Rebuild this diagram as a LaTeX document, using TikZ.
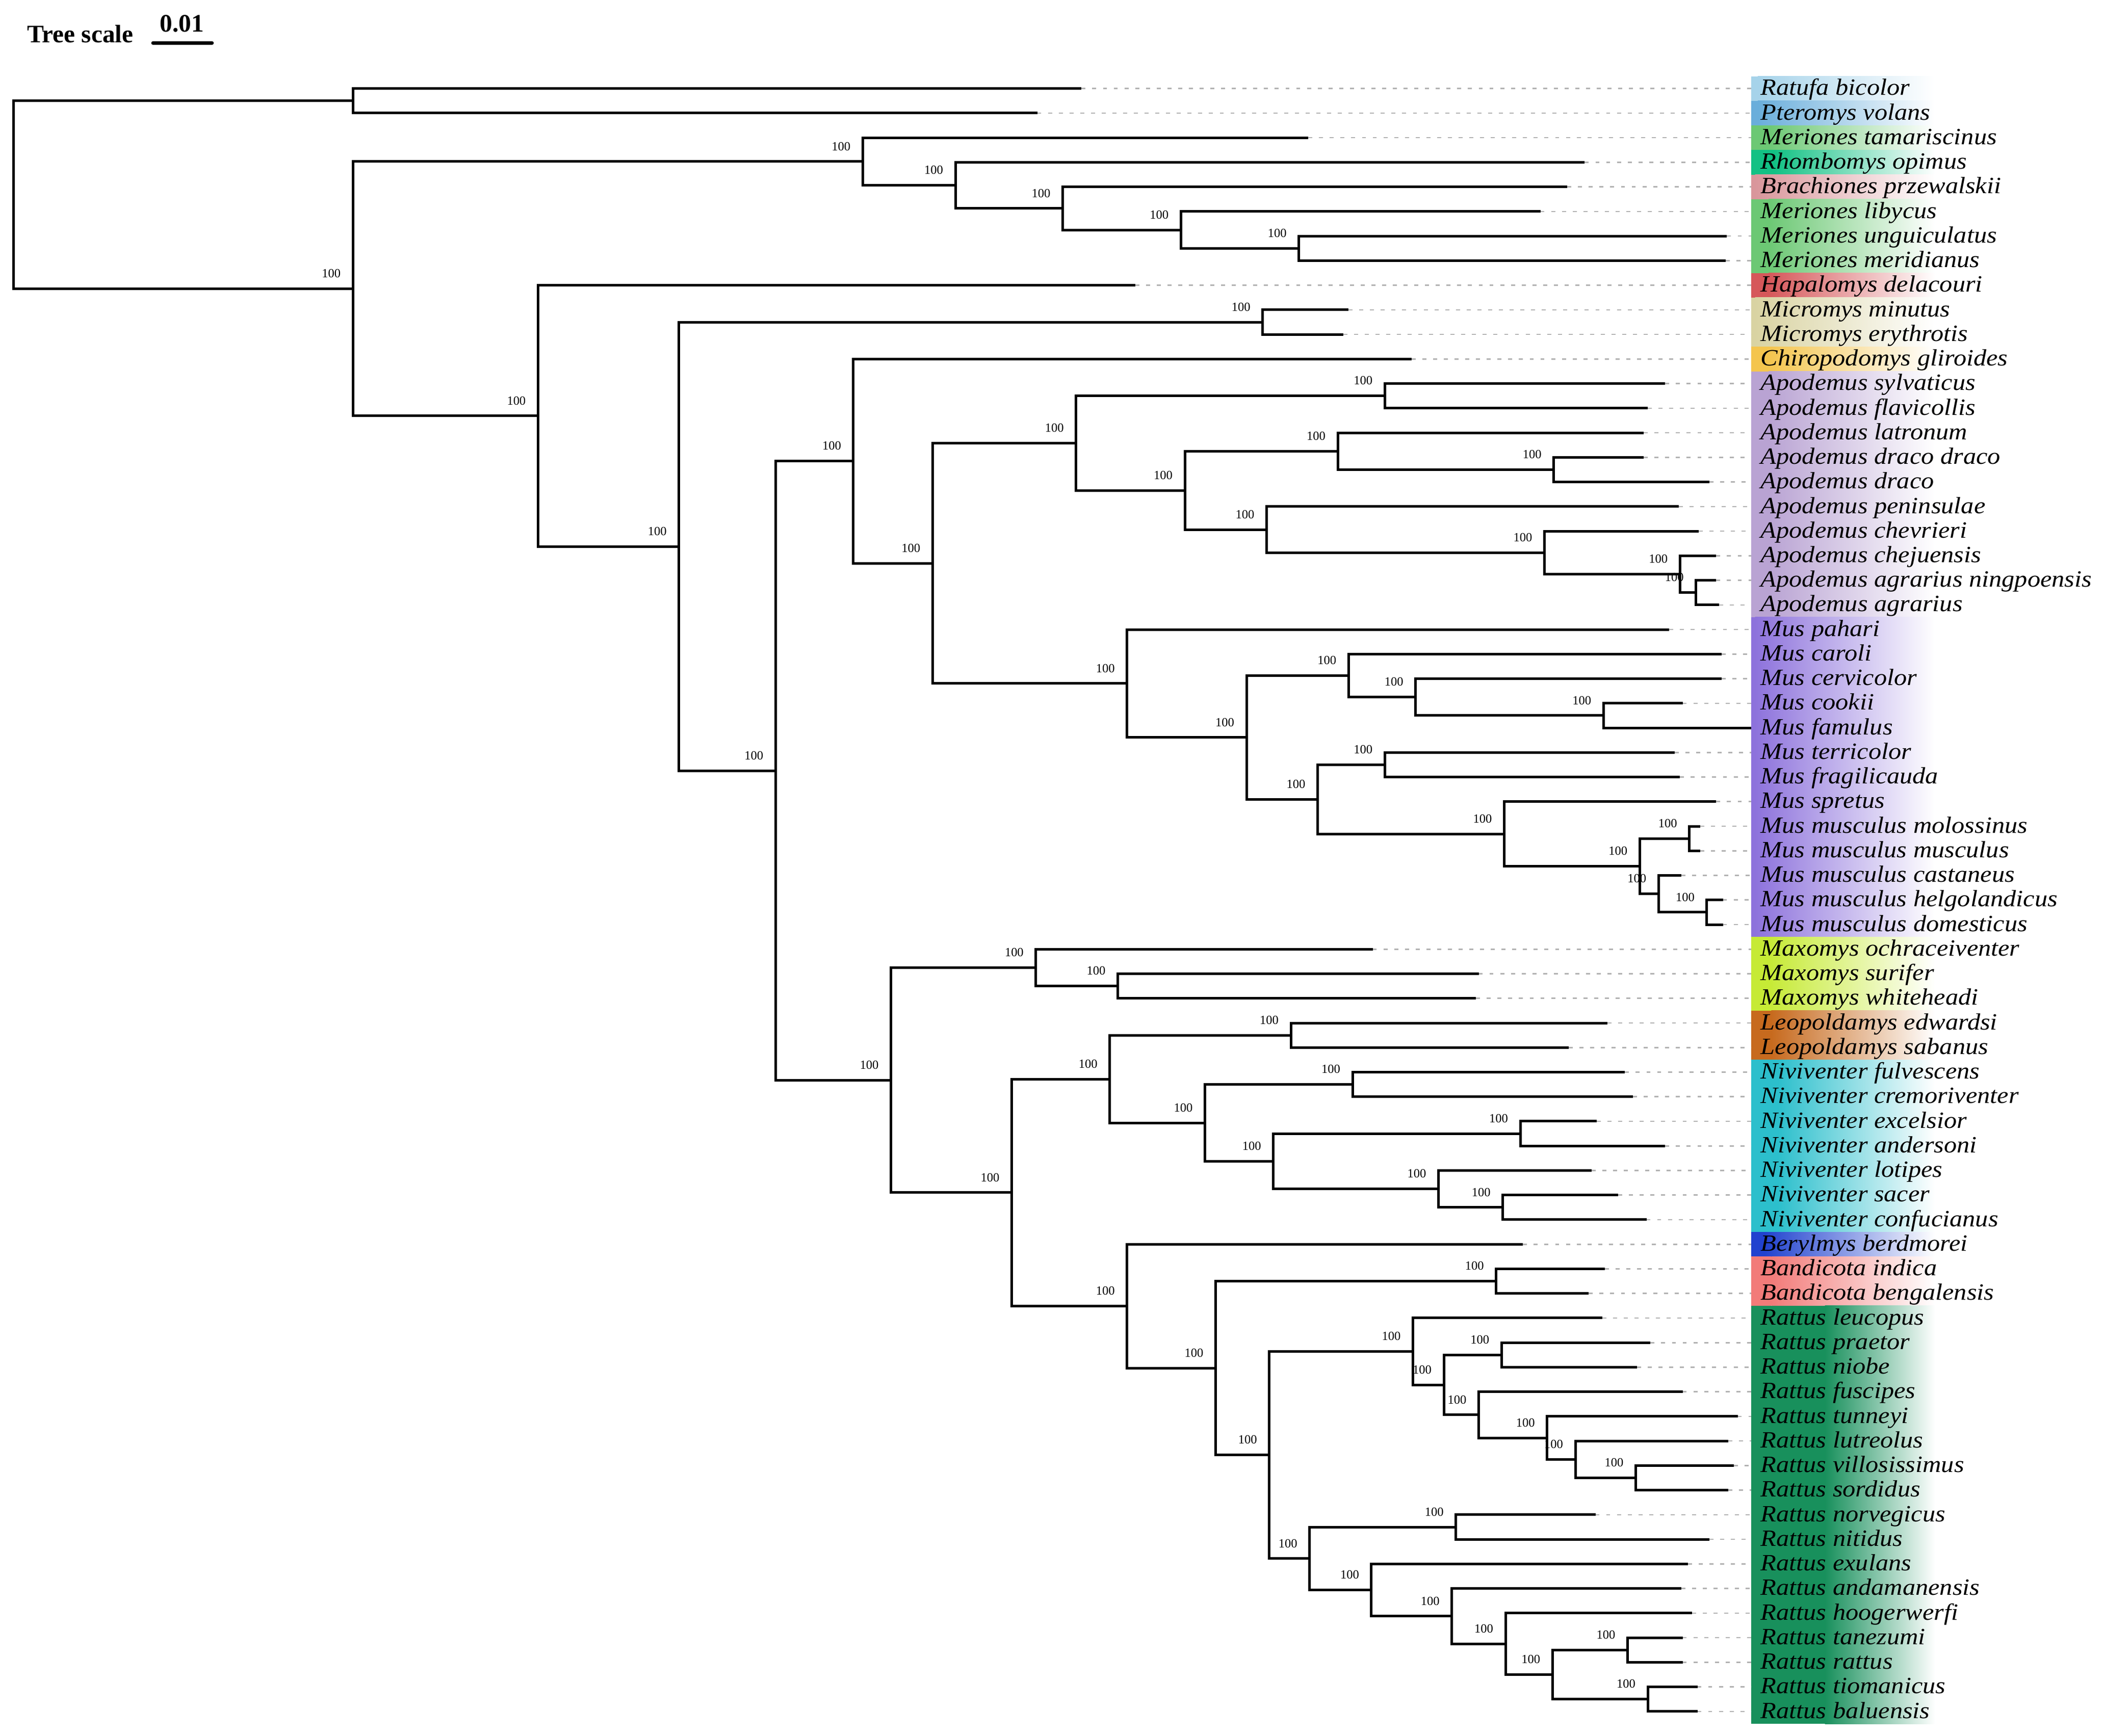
\documentclass[tikz,border=0pt]{standalone}
\usepackage{fontspec}
\setmainfont{Liberation Serif}
\newfontfamily\taxfont[FakeStretch=1.1]{Liberation Serif}

\definecolor{cRatufa}{HTML}{A6D3EA}
\definecolor{cPtero}{HTML}{6AAEDB}
\definecolor{cMer}{HTML}{6CC874}
\definecolor{cRhombo}{HTML}{12C184}
\definecolor{cBrach}{HTML}{D9969B}
\definecolor{cHapa}{HTML}{D6575A}
\definecolor{cMicro}{HTML}{D9D3A2}
\definecolor{cChiro}{HTML}{F4C54E}
\definecolor{cApo}{HTML}{B9A3D3}
\definecolor{cMus}{HTML}{8D72DC}
\definecolor{cMaxo}{HTML}{C6EA35}
\definecolor{cLeo}{HTML}{C76A1E}
\definecolor{cNivi}{HTML}{2CBFCC}
\definecolor{cBery}{HTML}{2142CF}
\definecolor{cBand}{HTML}{F27B79}
\definecolor{cRatt}{HTML}{18905C}

\tikzset{
  branch/.style={line width=1.9pt},
  tipline/.style={draw=black!30, line width=1pt, dash pattern=on 3pt off 5pt},
  taxon/.style={anchor=base west, inner sep=0pt, yshift=-5pt,
    font=\taxfont\fontsize{17.4}{18}\selectfont\itshape},
  boot/.style={anchor=south east, inner sep=0pt, xshift=-9pt, yshift=8pt,
    font=\fontsize{9.3}{10}\selectfont},
}

\begin{document}
\begin{tikzpicture}[x=1pt,y=-18.33pt]
	\useasboundingbox (0,-2.6) rectangle (1568,67.99);

	% Tree scale
	\node[anchor=base west, inner sep=0pt, font=\bfseries\fontsize{18.8}{20}\selectfont] (scaletxt) at (20,-0.871) {Tree scale};
	\node[anchor=base west, inner sep=0pt, font=\bfseries\fontsize{18.8}{20}\selectfont] (scaleval) at (119,-1.302) {0.01};
	\coordinate (sbl) at (114,-0.855);
	\coordinate (sbr) at (158,-0.855);
	\draw[line width=2.6pt, line cap=round] (sbl) -- (sbr);

	% farbige Balken hinter den Namen
	\foreach \ra/\rb/\col/\sx in {1/1/cRatufa/1310, 2/2/cPtero/1310, 3/3/cMer/1318,
	    4/4/cRhombo/1322, 5/5/cBrach/1308, 6/8/cMer/1318, 9/9/cHapa/1318,
	    10/11/cMicro/1308, 12/12/cChiro/1318, 13/22/cApo/1318, 23/35/cMus/1308,
	    36/38/cMaxo/1318, 39/40/cLeo/1320, 41/47/cNivi/1325, 48/48/cBery/1315,
	    49/50/cBand/1320, 51/67/cRatt/1360} {
		\fill[\col] (1305,{\ra-0.5}) rectangle (\sx,{\rb+0.5});
		\shade[left color=\col, right color=white] (\sx,{\ra-0.5}) rectangle (1442,{\rb+0.5});
	}

	% Blaetter
	\foreach \r/\tx/\nm/\lab in {
	    1/806/ratufa/Ratufa bicolor,
	    2/773/pteromys/Pteromys volans,
	    3/975/mtam/Meriones tamariscinus,
	    4/1181/rhombo/Rhombomys opimus,
	    5/1168/brach/Brachiones przewalskii,
	    6/1148/mlib/Meriones libycus,
	    7/1287/mung/Meriones unguiculatus,
	    8/1286/mmer/Meriones meridianus,
	    9/846/hapalo/Hapalomys delacouri,
	    10/1005/mmin/Micromys minutus,
	    11/1001/mery/Micromys erythrotis,
	    12/1052/chiro/Chiropodomys gliroides,
	    13/1241/asyl/Apodemus sylvaticus,
	    14/1228/afla/Apodemus flavicollis,
	    15/1225/alat/Apodemus latronum,
	    16/1225/adrdr/Apodemus draco draco,
	    17/1274/adra/Apodemus draco,
	    18/1251/apen/Apodemus peninsulae,
	    19/1266/ache/Apodemus chevrieri,
	    20/1279/achej/Apodemus chejuensis,
	    21/1279/aagn/Apodemus agrarius ningpoensis,
	    22/1281/aagr/Apodemus agrarius,
	    23/1244/mpah/Mus pahari,
	    24/1283/mcar/Mus caroli,
	    25/1283/mcer/Mus cervicolor,
	    26/1254/mcoo/Mus cookii,
	    27/1305/mfam/Mus famulus,
	    28/1248/mter/Mus terricolor,
	    29/1252/mfra/Mus fragilicauda,
	    30/1279/mspr/Mus spretus,
	    31/1267/mmol/Mus musculus molossinus,
	    32/1267/mmus/Mus musculus musculus,
	    33/1253/mcas/Mus musculus castaneus,
	    34/1284/mhel/Mus musculus helgolandicus,
	    35/1284/mdom/Mus musculus domesticus,
	    36/1023/mochr/Maxomys ochraceiventer,
	    37/1102/msur/Maxomys surifer,
	    38/1100/mwhi/Maxomys whiteheadi,
	    39/1198/ledw/Leopoldamys edwardsi,
	    40/1169/lsab/Leopoldamys sabanus,
	    41/1211/nful/Niviventer fulvescens,
	    42/1217/ncre/Niviventer cremoriventer,
	    43/1190/nexc/Niviventer excelsior,
	    44/1241/nand/Niviventer andersoni,
	    45/1186/nlot/Niviventer lotipes,
	    46/1206/nsac/Niviventer sacer,
	    47/1227/ncon/Niviventer confucianus,
	    48/1135/bery/Berylmys berdmorei,
	    49/1196/bind/Bandicota indica,
	    50/1184/bben/Bandicota bengalensis,
	    51/1194/rleu/Rattus leucopus,
	    52/1230/rpra/Rattus praetor,
	    53/1220/rnio/Rattus niobe,
	    54/1254/rfus/Rattus fuscipes,
	    55/1295/rtun/Rattus tunneyi,
	    56/1288/rlut/Rattus lutreolus,
	    57/1292/rvil/Rattus villosissimus,
	    58/1288/rsor/Rattus sordidus,
	    59/1189/rnor/Rattus norvegicus,
	    60/1274/rnit/Rattus nitidus,
	    61/1258/rexu/Rattus exulans,
	    62/1253/rand/Rattus andamanensis,
	    63/1261/rhoo/Rattus hoogerwerfi,
	    64/1254/rtan/Rattus tanezumi,
	    65/1254/rrat/Rattus rattus,
	    66/1265/rtio/Rattus tiomanicus,
	    67/1265/rbal/Rattus baluensis} {
		\coordinate (\nm) at (\tx,\r);
		\coordinate (\nm-end) at (1305,\r);
		\node[taxon] (\nm-lab) at (1312,\r) {\lab};
		\draw[tipline] (\nm) -- (\nm-end);
	}

	% innere Knoten
	\foreach \nm/\x/\r in {root/10/5.320, sci/263/1.5, muroid/263/9.139,
	    g1/643/3.969, g2/712/4.938, g3/792/5.875, g4/880/6.75, g5/968/7.5,
	    hap/401/14.310, micro/506/19.620, mic/941/10.5, core/578/28.740,
	    ch/636/16.154, am/695/20.309,
	    apo/802/15.422, a1/1032/13.5, a8/883/17.344, a2/997/15.75, a3/1158/16.5,
	    a4/944/18.938, a5/1151/19.875, a6/1252/20.75, a7/1264/21.5,
	    mus/840/25.195, u11/929/27.391, u1/1005/24.875, u2/1055/25.75, u3/1195/26.5,
	    u10/982/29.906, u4/1032/28.5, u5/1121/31.313, u6/1222/32.625, u7/1259/31.5,
	    u8/1236/33.75, u9/1272/34.5,
	    mx/664/41.325, max/772/36.75, max2/833/37.5, lnb/754/45.899, ln/827/41.281,
	    leo/962/39.5, niv/898/43.063, n1/1008/41.5, n2/949/44.625, n3/1133/43.5,
	    n4/1072/45.75, n5/1120/46.5,
	    bb/840/50.518, br/906/53.035, ban/1115/49.5, rat/946/56.570,
	    r1/1053/52.359, r1b/1076/53.719, r2/1119/52.5, r3/1102/54.938, r4/1153/55.875,
	    r5/1174/56.75, r6/1219/57.5, r13/976/60.781, r7/1085/59.5, r8/1022/62.063,
	    r8b/1082/63.125, r9/1122/64.25, r10/1157/65.5, r11/1213/64.5, r12/1228/66.5} {
		\coordinate (\nm) at (\x,\r);
	}

	% Bootstrap-Werte
	\foreach \nm in {muroid, g1, g2, g3, g4, g5, hap, micro, mic, core, ch, am,
	    apo, a1, a8, a2, a3, a4, a5, a6, a7,
	    mus, u11, u1, u2, u3, u10, u4, u5, u6, u7, u8, u9,
	    mx, max, max2, lnb, ln, leo, niv, n1, n2, n3, n4, n5,
	    bb, br, ban, rat, r1, r1b, r2, r3, r4, r5, r6, r13, r7, r8, r8b, r9, r10, r11, r12} {
		\node[boot] (\nm-bs) at (\nm) {100};
	}

	% Aeste
	\foreach \p/\c in {root/sci, root/muroid, sci/ratufa, sci/pteromys,
	    muroid/g1, muroid/hap,
	    g1/mtam, g1/g2, g2/rhombo, g2/g3, g3/brach, g3/g4, g4/mlib, g4/g5, g5/mung, g5/mmer,
	    hap/hapalo, hap/micro, micro/mic, micro/core, mic/mmin, mic/mery,
	    core/ch, core/mx, ch/chiro, ch/am, am/apo, am/mus,
	    apo/a1, apo/a8, a1/asyl, a1/afla, a8/a2, a8/a4, a2/alat, a2/a3, a3/adrdr, a3/adra,
	    a4/apen, a4/a5, a5/ache, a5/a6, a6/achej, a6/a7, a7/aagn, a7/aagr,
	    mus/mpah, mus/u11, u11/u1, u11/u10, u1/mcar, u1/u2, u2/mcer, u2/u3, u3/mcoo, u3/mfam,
	    u10/u4, u10/u5, u4/mter, u4/mfra, u5/mspr, u5/u6, u6/u7, u6/u8, u7/mmol, u7/mmus,
	    u8/mcas, u8/u9, u9/mhel, u9/mdom,
	    mx/max, mx/lnb, max/mochr, max/max2, max2/msur, max2/mwhi,
	    lnb/ln, lnb/bb, ln/leo, ln/niv, leo/ledw, leo/lsab, niv/n1, niv/n2, n1/nful, n1/ncre,
	    n2/n3, n2/n4, n3/nexc, n3/nand, n4/nlot, n4/n5, n5/nsac, n5/ncon,
	    bb/bery, bb/br, br/ban, br/rat, ban/bind, ban/bben,
	    rat/r1, rat/r13, r1/rleu, r1/r1b, r1b/r2, r1b/r3, r2/rpra, r2/rnio, r3/rfus, r3/r4,
	    r4/rtun, r4/r5, r5/rlut, r5/r6, r6/rvil, r6/rsor,
	    r13/r7, r13/r8, r7/rnor, r7/rnit, r8/rexu, r8/r8b, r8b/rand, r8b/r9, r9/rhoo, r9/r10,
	    r10/r11, r10/r12, r11/rtan, r11/rrat, r12/rtio, r12/rbal} {
		\draw[branch] (\p) |- (\c);
	}
\end{tikzpicture}
\end{document}
